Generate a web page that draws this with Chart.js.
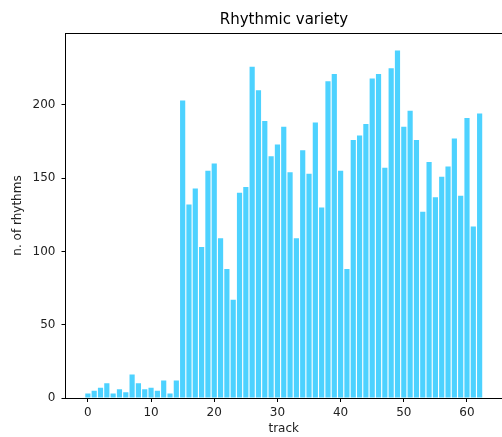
<!DOCTYPE html>
<html>
<head>
<meta charset="utf-8">
<script src="https://cdn.jsdelivr.net/npm/chart.js@4"></script>
<style>
  html, body { margin: 0; padding: 0; background: #fff; overflow: hidden; }
  #wrap { width: 568px; height: 437px; }
</style>
</head>
<body>
<div id="wrap"><canvas id="c" width="568" height="437"></canvas></div>
<script>
const chartTitle = "Rhythmic variety";
const xTitle = "track";
const yTitle = "n. of rhythms";
const tracks = [0,1,2,3,4,5,6,7,8,9,10,11,12,13,14,15,16,17,18,19,20,21,22,23,24,25,26,27,28,29,30,31,32,33,34,35,36,37,38,39,40,41,42,43,44,45,46,47,48,49,50,51,52,53,54,55,56,57,58,59,60,61,62];
const rhythms = [3,5,7,10,3,6,4,16,10,6,7,5,12,3,12,203,132,143,103,155,160,109,88,67,140,144,226,210,189,165,173,185,154,109,169,153,188,130,216,221,155,88,176,179,187,218,221,157,225,237,185,196,176,127,161,137,151,158,177,138,191,117,194];
const xTicks = [0,10,20,30,40,50,60];
const yTicks = [0,50,100,150,200];

const topSpine = {
  id: 'topSpine',
  afterDraw(chart) {
    const a = chart.chartArea, ctx = chart.ctx;
    ctx.save();
    ctx.strokeStyle = '#000';
    ctx.lineWidth = 1;
    ctx.beginPath();
    ctx.moveTo(a.left, a.top + 0.5);
    ctx.lineTo(a.right, a.top + 0.5);
    ctx.stroke();
    ctx.restore();
  }
};

const font = { family: "'DejaVu Sans', sans-serif", size: 12 };

new Chart(document.getElementById('c'), {
  type: 'bar',
  data: {
    datasets: [{
      data: tracks.map((t, i) => ({ x: t, y: rhythms[i] })),
      backgroundColor: '#4dd2ff',
      borderWidth: 0,
      categoryPercentage: 1,
      barPercentage: 0.82
    }]
  },
  options: {
    responsive: false,
    animation: false,
    layout: { padding: 0 },
    plugins: {
      legend: { display: false },
      tooltip: { enabled: false },
      title: {
        display: true,
        text: chartTitle,
        color: '#000',
        font: { family: "'DejaVu Sans', sans-serif", size: 15, weight: 'normal' },
        padding: { top: 11, bottom: 4 }
      }
    },
    scales: {
      x: {
        type: 'linear',
        min: -3.54,
        max: 65.54,
        offset: false,
        afterBuildTicks: s => { s.ticks = xTicks.map(v => ({ value: v })); },
        afterFit: s => { s.height = 39; },
        grid: { offset: false, drawOnChartArea: false, tickColor: '#000', tickLength: 4, tickWidth: 1 },
        border: { display: true, color: '#000', width: 1 },
        ticks: { color: '#222', font: font, padding: 4, maxRotation: 0 },
        title: { display: true, text: xTitle, color: '#222', font: font, padding: { top: 0, bottom: 1 } }
      },
      y: {
        min: 0,
        max: 249,
        afterBuildTicks: s => { s.ticks = yTicks.map(v => ({ value: v })); },
        afterFit: s => { s.width = 65.5; },
        grid: { drawOnChartArea: false, tickColor: '#000', tickLength: 4, tickWidth: 1 },
        border: { display: true, color: '#000', width: 1 },
        ticks: { color: '#222', font: font, padding: 6 },
        title: { display: true, text: yTitle, color: '#222', font: font, padding: { top: 11, bottom: 0 } }
      },
      yR: {
        position: 'right',
        min: 0,
        max: 249,
        afterFit: s => { s.width = 66; },
        grid: { display: false },
        border: { display: false },
        ticks: { display: false }
      }
    }
  },
  plugins: [topSpine]
});
</script>
</body>
</html>
